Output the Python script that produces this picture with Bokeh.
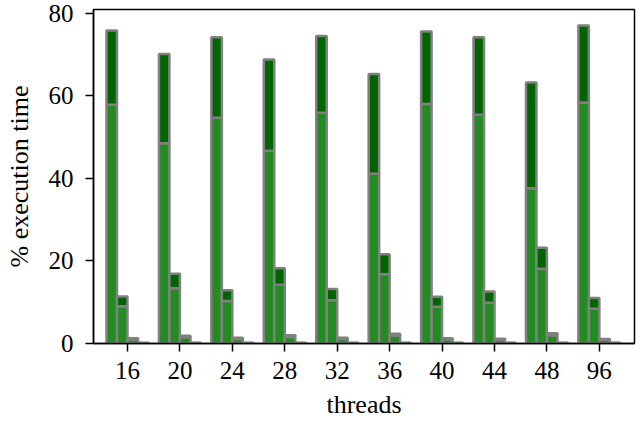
from bokeh.plotting import figure
from bokeh.models import Range1d, FixedTicker
from bokeh.embed import file_html
from bokeh.resources import INLINE

threads = ["16", "20", "24", "28", "32", "36", "40", "44", "48", "96"]

# four bars per thread count, each a stack of a light (bottom) and dark (top) part
bar1_light = [57.8, 48.5, 54.7, 46.7, 55.9, 41.1, 58.0, 55.4, 37.6, 58.4]
bar1_dark = [18.0, 21.6, 19.5, 22.1, 18.6, 24.2, 17.6, 18.8, 25.6, 18.6]
bar2_light = [9.0, 13.4, 10.3, 14.2, 10.5, 16.8, 8.9, 9.9, 18.1, 8.4]
bar2_dark = [2.4, 3.5, 2.6, 4.0, 2.7, 4.8, 2.4, 2.7, 5.1, 2.6]
bar3_light = [1.0, 1.5, 1.1, 1.6, 1.1, 1.9, 1.0, 0.9, 2.0, 0.9]
bar3_dark = [0.25, 0.35, 0.3, 0.4, 0.3, 0.45, 0.25, 0.25, 0.5, 0.2]
bar4_light = [0.15, 0.15, 0.15, 0.15, 0.15, 0.15, 0.15, 0.15, 0.15, 0.15]
bar4_dark = [0.05, 0.05, 0.05, 0.05, 0.05, 0.05, 0.05, 0.05, 0.05, 0.05]

y_ticks = [0, 20, 40, 60, 80]

LIGHT = "#228B22"
DARK = "#006400"
EDGE = "#808080"
FONT = "Liberation Serif"

p = figure(width=640, height=422, output_backend="svg", toolbar_location=None,
           x_range=Range1d(-0.648, 9.67), y_range=Range1d(0, 80.9),
           min_border_left=93, min_border_right=6, min_border_top=9, min_border_bottom=79)

bars = [(bar1_light, bar1_dark), (bar2_light, bar2_dark),
        (bar3_light, bar3_dark), (bar4_light, bar4_dark)]
offsets = [-0.3, -0.1, 0.1, 0.3]
width = 0.2
for (light, dark), off in zip(bars, offsets):
    xs = [i + off for i in range(len(threads))]
    tops = [a + b for a, b in zip(light, dark)]
    p.vbar(x=xs, width=width, bottom=0, top=light, fill_color=LIGHT,
           line_color=EDGE, line_width=2.5)
    p.vbar(x=xs, width=width, bottom=light, top=tops, fill_color=DARK,
           line_color=EDGE, line_width=2.5)

p.xgrid.visible = False
p.ygrid.visible = False
p.outline_line_color = "black"
p.outline_line_width = 1.5
p.background_fill_color = "white"
p.border_fill_color = "white"

p.xaxis.ticker = FixedTicker(ticks=list(range(len(threads))))
p.xaxis.major_label_overrides = {i: t for i, t in enumerate(threads)}
p.yaxis.ticker = FixedTicker(ticks=y_ticks)
p.xaxis.axis_label = "threads"
p.yaxis.axis_label = "% execution time"

for ax in (p.xaxis, p.yaxis):
    ax.axis_line_color = "black"
    ax.axis_line_width = 1.5
    ax.major_tick_line_color = "black"
    ax.major_tick_line_width = 1.5
    ax.major_tick_out = 8
    ax.major_tick_in = 0
    ax.minor_tick_line_color = None
    ax.major_label_text_font = FONT
    ax.major_label_text_font_size = "25px"
    ax.major_label_text_color = "black"
    ax.axis_label_text_font = FONT
    ax.axis_label_text_font_size = "26px"
    ax.axis_label_text_font_style = "normal"
    ax.axis_label_text_color = "black"

p.xaxis.major_label_standoff = 10
p.yaxis.major_label_standoff = 12
p.xaxis.axis_label_standoff = 8
p.yaxis.axis_label_standoff = 12

open("out.html", "w").write(file_html(p, INLINE))
